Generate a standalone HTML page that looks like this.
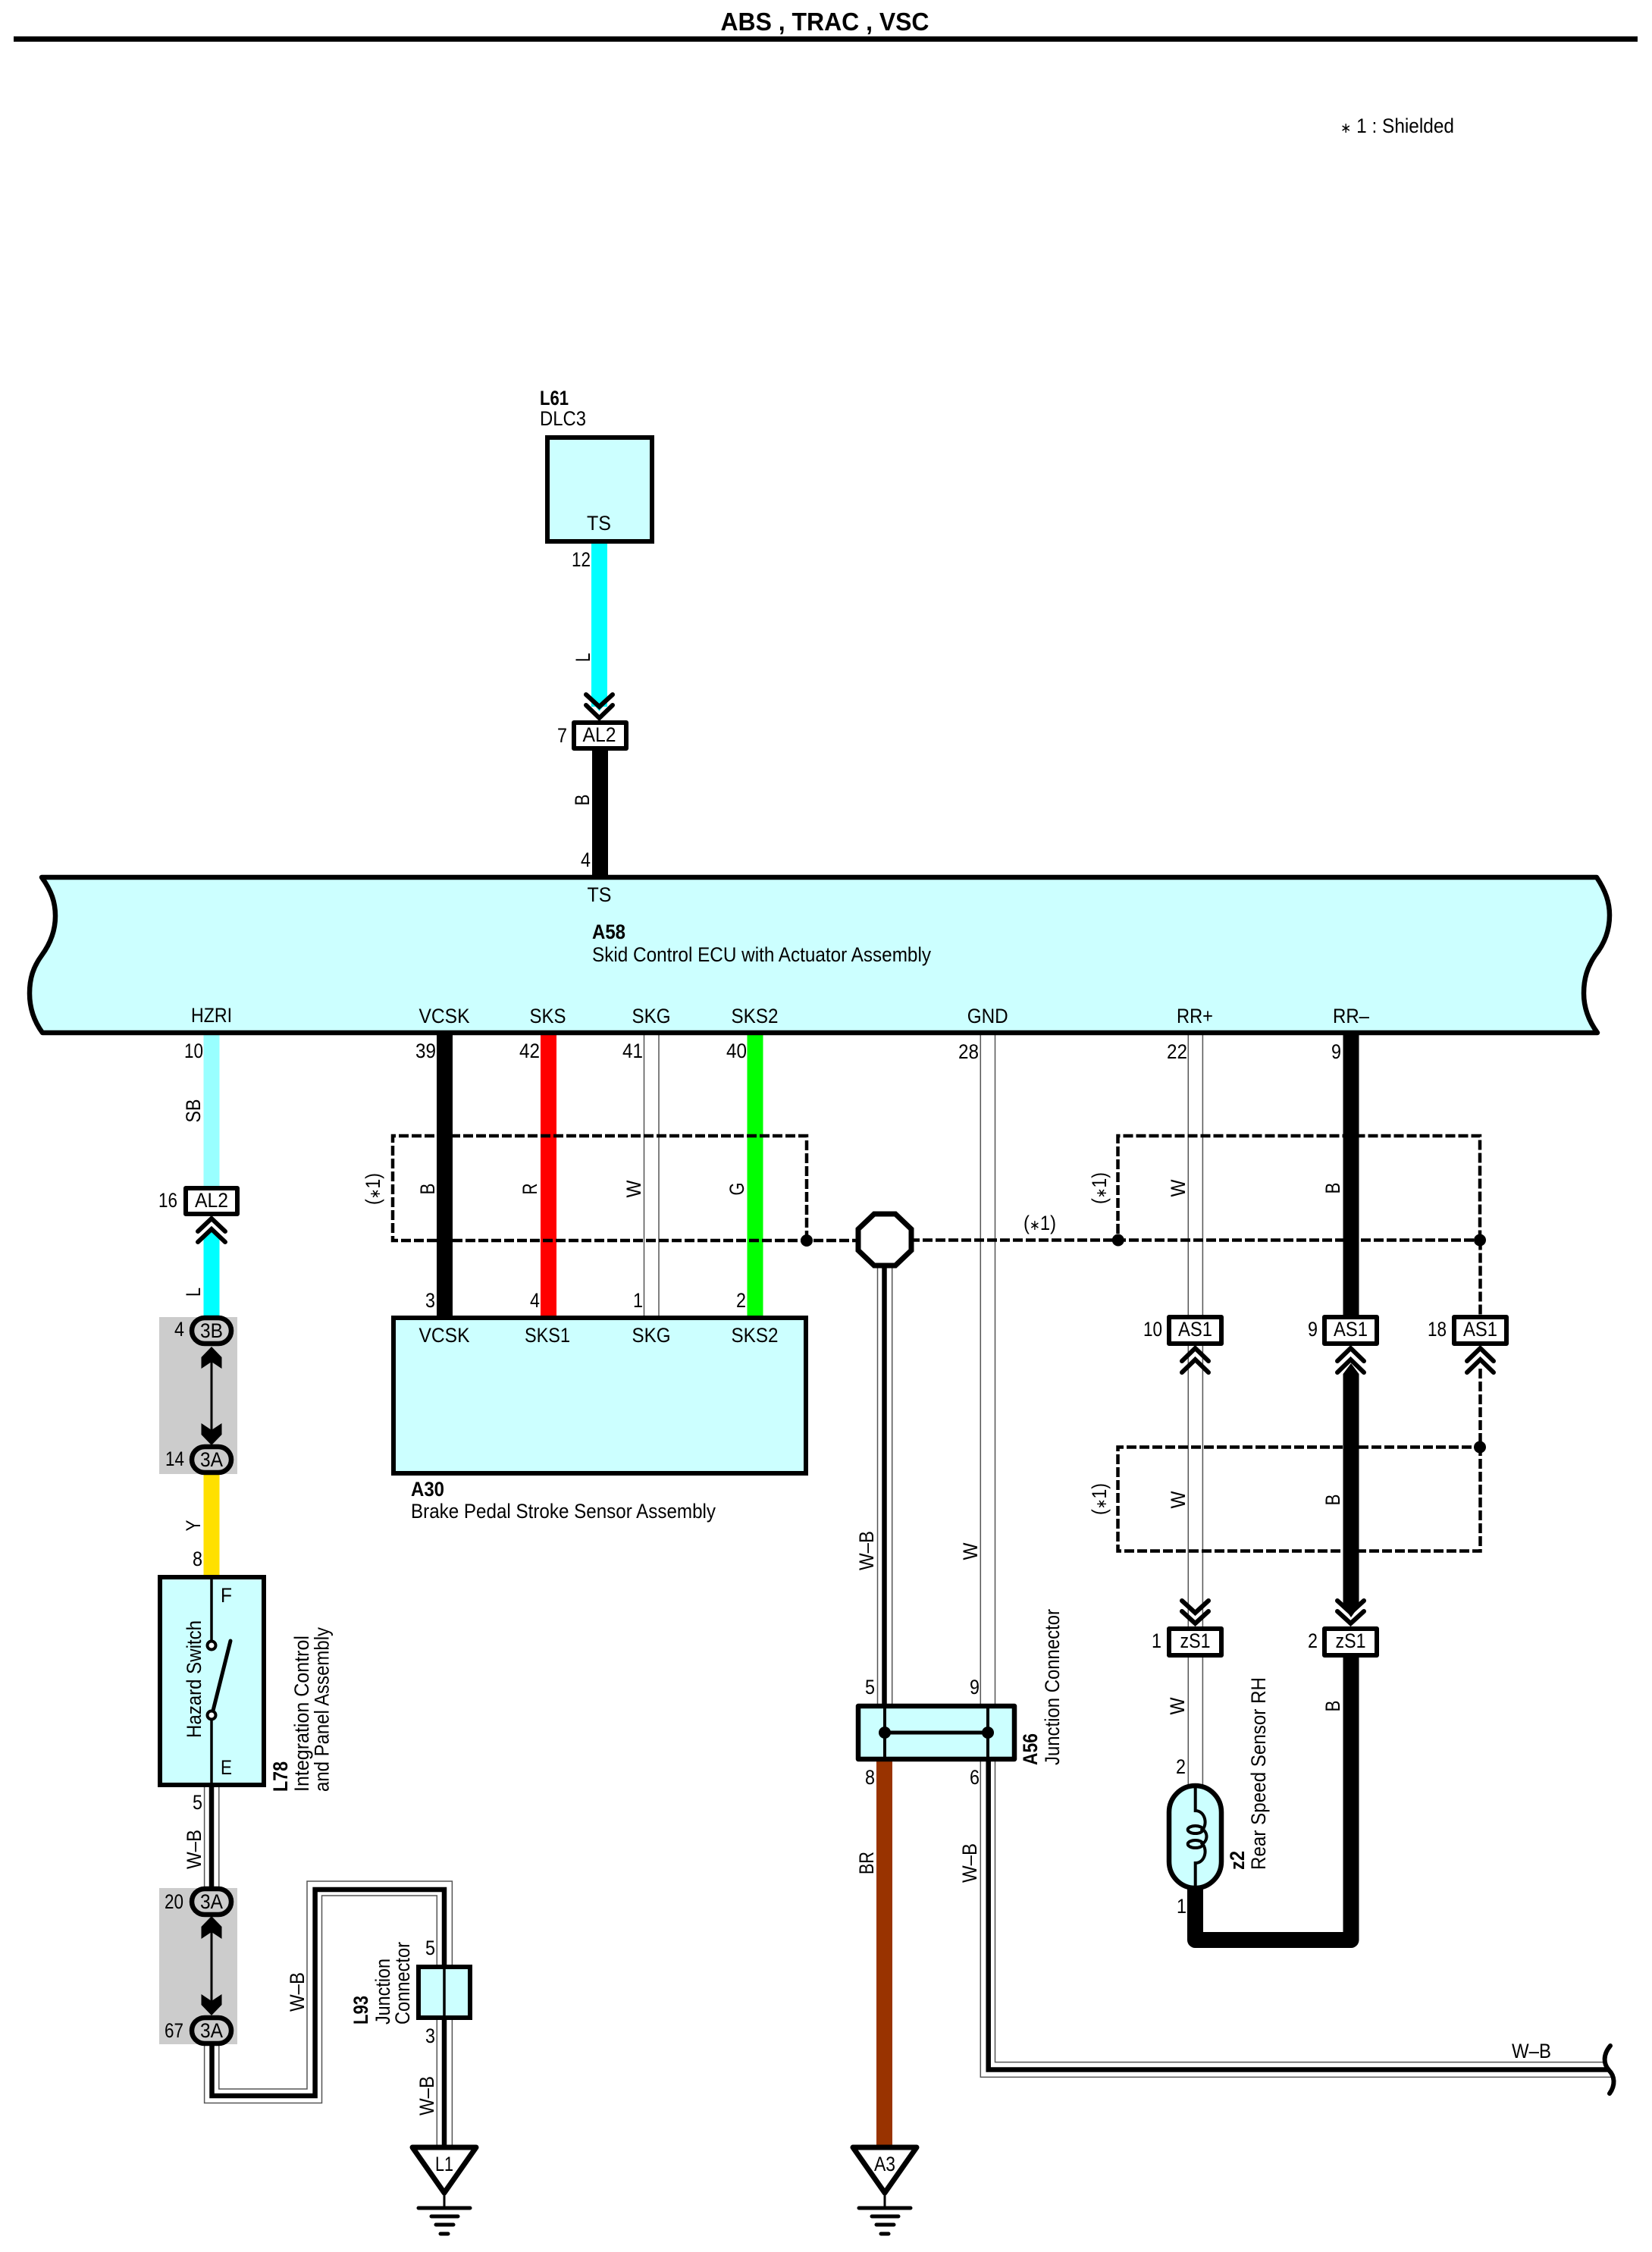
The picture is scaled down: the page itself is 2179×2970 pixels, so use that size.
<!DOCTYPE html>
<html>
<head>
<meta charset="utf-8">
<title>ABS , TRAC , VSC</title>
<style>
html,body{margin:0;padding:0;background:#fff;}
svg{display:block;}
text{font-family:"Liberation Sans",sans-serif;font-size:27px;fill:#000;}
.b{font-weight:bold;}
.s{font-size:19px;}
</style>
</head>
<body>
<svg width="2179" height="2970" viewBox="0 0 2179 2970" xmlns="http://www.w3.org/2000/svg">
<rect width="2179" height="2970" fill="#fff"/>

<!-- header -->
<text x="1088" y="40" class="b" style="font-size:33px" text-anchor="middle" textLength="275" lengthAdjust="spacingAndGlyphs">ABS , TRAC , VSC</text>
<rect x="18" y="48" width="2142" height="7" fill="#000"/>
<text x="1768" y="175" textLength="150" lengthAdjust="spacingAndGlyphs"><tspan class="s">∗</tspan> 1 : Shielded</text>

<!-- grey connector bands -->
<rect x="210" y="1737" width="103" height="207" fill="#ccc"/>
<rect x="210" y="2490" width="103" height="206" fill="#ccc"/>

<!-- coloured wires -->
<rect x="780" y="716" width="21" height="216" fill="#00ffff"/>
<path d="M780,925 L790.5,938 L801,925 Z" fill="#00ffff"/>
<rect x="781" y="990" width="21" height="166" fill="#000"/>
<rect x="268.5" y="1365" width="21" height="200" fill="#99ffff"/>
<path d="M268.5,1738 V1633 L279,1622 L289.5,1633 V1738 Z" fill="#00ffff"/>
<rect x="268.5" y="1944" width="21" height="136" fill="#ffe000"/>
<rect x="576" y="1365" width="21" height="372" fill="#000"/>
<rect x="713" y="1365" width="21" height="372" fill="#ff0000"/>
<rect x="985.5" y="1365" width="21" height="372" fill="#00ff00"/>
<rect x="1156" y="2323" width="21" height="507" fill="#993300"/>

<!-- thin W wires -->
<g fill="none" stroke="#555" stroke-width="1.5">
<path d="M849.5,1365 V1737 M869,1365 V1737"/>
<path d="M1293.3,1365 V2247 M1312.5,1365 V2247"/>
<path d="M1567.3,1365 V1735 M1586.4,1365 V1735"/>
<path d="M1567.3,1775 V2145 M1586.4,1775 V2145"/>
<path d="M1567.3,2185 V2356 M1586.4,2185 V2356"/>
<path d="M1157.5,1670 V2247 M1176.7,1670 V2247"/>
<path d="M1293.3,2323 V2739.4 H2125 M1312.5,2323 V2719.6 H2116"/>
<path d="M269.6,2357 V2490 M288.8,2357 V2490"/>
<path d="M269.6,2696 V2773.5 H424.5 V2500 H576.3 V2830"/>
<path d="M288.8,2696 V2755 H405 V2481 H596.4 V2830"/>
</g>
<!-- thick-centred black lines -->
<g fill="none" stroke="#000" stroke-width="6.5">
<path d="M1166.5,1670 V2247"/>
<path d="M1303.7,2323 V2729.5 H2122"/>
<path d="M279,2357 V2490"/>
<path d="M279.5,2696 V2764 H415.6 V2492 H586 V2830"/>
</g>

<!-- RR- black wire -->
<path d="M1771.5,1365 H1792.5 V1737 H1771.5 Z" fill="#000"/>
<path d="M1771.5,2118 V1812 L1782,1798 L1792.5,1812 V2118 L1782,2133 Z" fill="#000"/>
<path d="M1576.5,2490 V2558.5 H1782 V2185" fill="none" stroke="#000" stroke-width="21" stroke-linejoin="round"/>

<!-- shields -->
<g fill="none" stroke="#000" stroke-width="4.5" stroke-dasharray="13 4">
<path d="M1064,1636 V1498 H518 V1636 H1135"/>
<path d="M1200,1635.5 H1952"/>
<path d="M1952,1635.5 V1498 H1474.5 V1635.5"/>
<path d="M1952.5,1635.5 V1737"/>
<path d="M1952.5,1805 V2045.5 H1474.5 V1908.5 H1952.5"/>
</g>
<g fill="#000">
<circle cx="1064" cy="1636" r="8"/>
<circle cx="1474.8" cy="1635.5" r="8"/>
<circle cx="1952" cy="1635.5" r="8"/>
<circle cx="1952" cy="1908.5" r="8"/>
</g>
<!-- octagon -->
<path d="M1153,1601 H1181 L1202,1621 V1649 L1181,1669 H1153 L1132,1649 V1621 Z" fill="#fff" stroke="#000" stroke-width="7"/>

<!-- end squiggle -->
<path d="M2124,2698 C2114,2710 2115,2722 2122,2730 C2130,2738 2131,2750 2123,2761" fill="none" stroke="#000" stroke-width="6" stroke-linecap="round"/>

<!-- ECU A58 -->
<path d="M55,1157 C68,1175 73,1190 73,1208 C73,1228 66,1245 55,1260 C44,1275 39,1290 39,1310 C39,1330 45,1347 56,1362 L2107,1362 C2096,1347 2089,1330 2089,1310 C2089,1290 2094,1275 2104,1260 C2116,1245 2123,1228 2123,1207 C2123,1190 2118,1175 2106,1157 Z" fill="#ccffff" stroke="#000" stroke-width="6.5" stroke-linejoin="round"/>

<!-- L61 box -->
<rect x="722" y="577" width="138" height="137" fill="#ccffff" stroke="#000" stroke-width="6"/>

<!-- A30 box -->
<rect x="519" y="1738" width="544" height="205" fill="#ccffff" stroke="#000" stroke-width="6"/>

<!-- Hazard box -->
<rect x="211" y="2080" width="137" height="274" fill="#ccffff" stroke="#000" stroke-width="6"/>
<path d="M279,2080 V2170 M279,2262 V2354" stroke="#000" stroke-width="3.5" fill="none"/>
<path d="M279.5,2262 L304,2164" stroke="#000" stroke-width="5" fill="none" stroke-linecap="round"/>
<circle cx="279" cy="2170" r="5.5" fill="#fff" stroke="#000" stroke-width="4"/>
<circle cx="279" cy="2262" r="5.5" fill="#fff" stroke="#000" stroke-width="4"/>

<!-- L93 box -->
<rect x="552" y="2594" width="68" height="67" fill="#ccffff" stroke="#000" stroke-width="6"/>
<path d="M586,2594 V2661" stroke="#000" stroke-width="3.5"/>

<!-- A56 box -->
<rect x="1132" y="2250" width="206" height="70" fill="#ccffff" stroke="#000" stroke-width="6.5" stroke-linejoin="round"/>
<path d="M1167,2250 V2320 M1303,2250 V2320" stroke="#000" stroke-width="4"/>
<path d="M1167,2285 H1303" stroke="#000" stroke-width="5"/>
<circle cx="1167" cy="2285" r="8" fill="#000"/>
<circle cx="1303" cy="2285" r="8" fill="#000"/>

<!-- Sensor z2 -->
<rect x="1542" y="2355" width="69" height="135" rx="34.5" ry="35" fill="#ccffff" stroke="#000" stroke-width="6.5"/>
<g fill="none" stroke="#000" stroke-width="4">
<path d="M1576.7,2355 V2388 C1590,2388 1594,2408 1584,2415"/>
<ellipse cx="1576.7" cy="2413" rx="10" ry="5"/>
<path d="M1584,2411 C1594,2416 1594,2428 1584,2433"/>
<ellipse cx="1576.7" cy="2432" rx="10" ry="5"/>
<path d="M1584,2430 C1594,2437 1590,2457 1576.7,2457 V2490"/>
</g>

<!-- connectors AL2 / AS1 / zS1 -->
<g fill="#fff" stroke="#000" stroke-width="6" stroke-linejoin="round">
<rect x="757" y="953" width="69" height="34"/>
<rect x="245" y="1567" width="68" height="34"/>
<rect x="1542" y="1737" width="69" height="35"/>
<rect x="1747" y="1737" width="69" height="35"/>
<rect x="1918" y="1737" width="69" height="35"/>
<rect x="1542" y="2148" width="69" height="35"/>
<rect x="1747" y="2148" width="69" height="35"/>
</g>
<!-- chevrons -->
<g fill="none" stroke="#000" stroke-width="6" stroke-linecap="round">
<path d="M773,916 L790.5,932 L808,916 M773,930 L790.5,947 L808,930"/>
<path d="M261,1624 L279,1607 L297,1624 M261,1638 L279,1621 L297,1638"/>
<path d="M1559,1795 L1576.5,1778 L1594,1795 M1559,1810 L1576.5,1793 L1594,1810"/>
<path d="M1764,1795 L1781.5,1778 L1799,1795 M1764,1810 L1781.5,1793 L1799,1810"/>
<path d="M1935,1795 L1952.5,1778 L1970,1795 M1935,1810 L1952.5,1793 L1970,1810"/>
<path d="M1559,2111 L1576.5,2127 L1594,2111 M1559,2125 L1576.5,2141 L1594,2125"/>
<path d="M1764,2111 L1781.5,2127 L1799,2111 M1764,2125 L1781.5,2141 L1799,2125"/>
</g>

<!-- ovals + double arrows -->
<g fill="#ccc" stroke="#000" stroke-width="6.5">
<rect x="253" y="1738" width="52" height="34" rx="17"/>
<rect x="253" y="1908" width="52" height="34" rx="17"/>
<rect x="253" y="2491" width="52" height="34" rx="17"/>
<rect x="253" y="2661" width="52" height="34" rx="17"/>
</g>
<g fill="#000">
<path d="M277.5,1790 H280.5 V1895 H277.5 Z"/>
<path d="M279,1776 L292.5,1790 V1805 L279,1796 L265.5,1805 V1790 Z"/>
<path d="M279,1906 L292.5,1892 V1877 L279,1886 L265.5,1877 V1892 Z"/>
<path d="M277.5,2540 H280.5 V2645 H277.5 Z"/>
<path d="M279,2527 L292.5,2541 V2557 L279,2548 L265.5,2557 V2541 Z"/>
<path d="M279,2658 L292.5,2644 V2630 L279,2639 L265.5,2630 V2644 Z"/>
</g>

<!-- grounds -->
<g fill="#fff" stroke="#000" stroke-width="7" stroke-linejoin="round">
<path d="M544,2832 H628 L586,2892 Z"/>
<path d="M1125,2832 H1209 L1167,2892 Z"/>
</g>
<g fill="none" stroke="#000" stroke-linecap="round">
<path d="M586,2892 V2912 M1167,2892 V2912" stroke-width="3"/>
<path d="M552,2912 H620 M569,2923 H604 M575,2934 H598 M581,2946 H591" stroke-width="5"/>
<path d="M1133,2912 H1201 M1150,2923 H1185 M1156,2934 H1179 M1162,2946 H1172" stroke-width="5"/>
</g>

<!-- upper labels -->
<text x="712" y="534" class="b" textLength="38" lengthAdjust="spacingAndGlyphs">L61</text>
<text x="712" y="561" textLength="61" lengthAdjust="spacingAndGlyphs">DLC3</text>
<text x="790" y="699" text-anchor="middle" textLength="32" lengthAdjust="spacingAndGlyphs">TS</text>
<text x="779" y="747" text-anchor="end" textLength="25" lengthAdjust="spacingAndGlyphs">12</text>
<text x="778" y="867" transform="rotate(-90 778 867)" text-anchor="middle" textLength="12" lengthAdjust="spacingAndGlyphs">L</text>
<text x="748" y="979" text-anchor="end" textLength="13" lengthAdjust="spacingAndGlyphs">7</text>
<text x="790.5" y="978" text-anchor="middle" textLength="44" lengthAdjust="spacingAndGlyphs">AL2</text>
<text x="777" y="1055" transform="rotate(-90 777 1055)" text-anchor="middle" textLength="15" lengthAdjust="spacingAndGlyphs">B</text>
<text x="779" y="1143" text-anchor="end" textLength="13" lengthAdjust="spacingAndGlyphs">4</text>

<!-- ECU labels -->
<text x="790.5" y="1189" text-anchor="middle" textLength="32" lengthAdjust="spacingAndGlyphs">TS</text>
<text x="781" y="1238" class="b" textLength="44" lengthAdjust="spacingAndGlyphs">A58</text>
<text x="781" y="1268" textLength="447" lengthAdjust="spacingAndGlyphs">Skid Control ECU with Actuator Assembly</text>
<text x="279" y="1348" text-anchor="middle" textLength="54" lengthAdjust="spacingAndGlyphs">HZRI</text>
<text x="586" y="1349" text-anchor="middle" textLength="67" lengthAdjust="spacingAndGlyphs">VCSK</text>
<text x="722.5" y="1349" text-anchor="middle" textLength="48" lengthAdjust="spacingAndGlyphs">SKS</text>
<text x="859" y="1349" text-anchor="middle" textLength="51" lengthAdjust="spacingAndGlyphs">SKG</text>
<text x="995.5" y="1349" text-anchor="middle" textLength="62" lengthAdjust="spacingAndGlyphs">SKS2</text>
<text x="1302.7" y="1349" text-anchor="middle" textLength="54" lengthAdjust="spacingAndGlyphs">GND</text>
<text x="1576" y="1349" text-anchor="middle" textLength="48" lengthAdjust="spacingAndGlyphs">RR+</text>
<text x="1782" y="1349" text-anchor="middle" textLength="48" lengthAdjust="spacingAndGlyphs">RR–</text>

<!-- pin numbers under ECU -->
<text x="268" y="1395" text-anchor="end" textLength="25" lengthAdjust="spacingAndGlyphs">10</text>
<text x="575" y="1395" text-anchor="end" textLength="27" lengthAdjust="spacingAndGlyphs">39</text>
<text x="712" y="1395" text-anchor="end" textLength="27" lengthAdjust="spacingAndGlyphs">42</text>
<text x="848" y="1395" text-anchor="end" textLength="27" lengthAdjust="spacingAndGlyphs">41</text>
<text x="985" y="1395" text-anchor="end" textLength="27" lengthAdjust="spacingAndGlyphs">40</text>
<text x="1291" y="1396" text-anchor="end" textLength="27" lengthAdjust="spacingAndGlyphs">28</text>
<text x="1566" y="1396" text-anchor="end" textLength="27" lengthAdjust="spacingAndGlyphs">22</text>
<text x="1769" y="1396" text-anchor="end" textLength="13" lengthAdjust="spacingAndGlyphs">9</text>

<!-- left column -->
<text x="264" y="1465" transform="rotate(-90 264 1465)" text-anchor="middle" textLength="31" lengthAdjust="spacingAndGlyphs">SB</text>
<text x="234" y="1592" text-anchor="end" textLength="25" lengthAdjust="spacingAndGlyphs">16</text>
<text x="279" y="1592" text-anchor="middle" textLength="44" lengthAdjust="spacingAndGlyphs">AL2</text>
<text x="264" y="1704" transform="rotate(-90 264 1704)" text-anchor="middle" textLength="12" lengthAdjust="spacingAndGlyphs">L</text>
<text x="243" y="1762" text-anchor="end" textLength="13" lengthAdjust="spacingAndGlyphs">4</text>
<text x="279" y="1764" text-anchor="middle" textLength="30" lengthAdjust="spacingAndGlyphs">3B</text>
<text x="243" y="1933" text-anchor="end" textLength="25" lengthAdjust="spacingAndGlyphs">14</text>
<text x="279" y="1934" text-anchor="middle" textLength="30" lengthAdjust="spacingAndGlyphs">3A</text>
<text x="264" y="2012" transform="rotate(-90 264 2012)" text-anchor="middle" textLength="15" lengthAdjust="spacingAndGlyphs">Y</text>
<text x="267" y="2065" text-anchor="end" textLength="13" lengthAdjust="spacingAndGlyphs">8</text>
<text x="291" y="2113" textLength="15" lengthAdjust="spacingAndGlyphs">F</text>
<text x="291" y="2340" textLength="15" lengthAdjust="spacingAndGlyphs">E</text>
<text x="265" y="2292" transform="rotate(-90 265 2292)" textLength="155" lengthAdjust="spacingAndGlyphs">Hazard Switch</text>
<text x="379" y="2363" class="b" transform="rotate(-90 379 2363)" textLength="40" lengthAdjust="spacingAndGlyphs">L78</text>
<text x="407" y="2363" transform="rotate(-90 407 2363)" textLength="206" lengthAdjust="spacingAndGlyphs">Integration Control</text>
<text x="433.5" y="2363" transform="rotate(-90 433.5 2363)" textLength="217" lengthAdjust="spacingAndGlyphs">and Panel Assembly</text>
<text x="267" y="2386" text-anchor="end" textLength="13" lengthAdjust="spacingAndGlyphs">5</text>
<text x="265" y="2439" transform="rotate(-90 265 2439)" text-anchor="middle" textLength="52" lengthAdjust="spacingAndGlyphs">W–B</text>
<text x="242" y="2517" text-anchor="end" textLength="25" lengthAdjust="spacingAndGlyphs">20</text>
<text x="279" y="2517" text-anchor="middle" textLength="30" lengthAdjust="spacingAndGlyphs">3A</text>
<text x="242" y="2687" text-anchor="end" textLength="25" lengthAdjust="spacingAndGlyphs">67</text>
<text x="279" y="2687" text-anchor="middle" textLength="30" lengthAdjust="spacingAndGlyphs">3A</text>
<text x="401" y="2627" transform="rotate(-90 401 2627)" text-anchor="middle" textLength="52" lengthAdjust="spacingAndGlyphs">W–B</text>
<text x="485" y="2670" class="b" transform="rotate(-90 485 2670)" textLength="38" lengthAdjust="spacingAndGlyphs">L93</text>
<text x="514" y="2670" transform="rotate(-90 514 2670)" textLength="87" lengthAdjust="spacingAndGlyphs">Junction</text>
<text x="540" y="2670" transform="rotate(-90 540 2670)" textLength="109" lengthAdjust="spacingAndGlyphs">Connector</text>
<text x="574" y="2578" text-anchor="end" textLength="13" lengthAdjust="spacingAndGlyphs">5</text>
<text x="574" y="2694" text-anchor="end" textLength="13" lengthAdjust="spacingAndGlyphs">3</text>
<text x="572" y="2764" transform="rotate(-90 572 2764)" text-anchor="middle" textLength="52" lengthAdjust="spacingAndGlyphs">W–B</text>
<text x="586" y="2863" text-anchor="middle" textLength="24" lengthAdjust="spacingAndGlyphs">L1</text>

<!-- shield section labels -->
<text x="501" y="1568" transform="rotate(-90 501 1568)" text-anchor="middle" textLength="42" lengthAdjust="spacingAndGlyphs">(<tspan class="s">∗</tspan>1)</text>
<text x="573" y="1568" transform="rotate(-90 573 1568)" text-anchor="middle" textLength="15" lengthAdjust="spacingAndGlyphs">B</text>
<text x="708" y="1568" transform="rotate(-90 708 1568)" text-anchor="middle" textLength="15" lengthAdjust="spacingAndGlyphs">R</text>
<text x="845" y="1568" transform="rotate(-90 845 1568)" text-anchor="middle" textLength="23" lengthAdjust="spacingAndGlyphs">W</text>
<text x="981" y="1568" transform="rotate(-90 981 1568)" text-anchor="middle" textLength="17" lengthAdjust="spacingAndGlyphs">G</text>

<!-- A30 -->
<text x="574" y="1724" text-anchor="end" textLength="13" lengthAdjust="spacingAndGlyphs">3</text>
<text x="712" y="1724" text-anchor="end" textLength="13" lengthAdjust="spacingAndGlyphs">4</text>
<text x="848" y="1724" text-anchor="end" textLength="13" lengthAdjust="spacingAndGlyphs">1</text>
<text x="984" y="1724" text-anchor="end" textLength="13" lengthAdjust="spacingAndGlyphs">2</text>
<text x="586" y="1770" text-anchor="middle" textLength="67" lengthAdjust="spacingAndGlyphs">VCSK</text>
<text x="722" y="1770" text-anchor="middle" textLength="60" lengthAdjust="spacingAndGlyphs">SKS1</text>
<text x="859" y="1770" text-anchor="middle" textLength="51" lengthAdjust="spacingAndGlyphs">SKG</text>
<text x="995.5" y="1770" text-anchor="middle" textLength="62" lengthAdjust="spacingAndGlyphs">SKS2</text>
<text x="542" y="1973" class="b" textLength="44" lengthAdjust="spacingAndGlyphs">A30</text>
<text x="542" y="2002" textLength="402" lengthAdjust="spacingAndGlyphs">Brake Pedal Stroke Sensor Assembly</text>

<!-- centre -->
<text x="1350" y="1622" textLength="43" lengthAdjust="spacingAndGlyphs">(<tspan class="s">∗</tspan>1)</text>
<text x="1152" y="2045" transform="rotate(-90 1152 2045)" text-anchor="middle" textLength="52" lengthAdjust="spacingAndGlyphs">W–B</text>
<text x="1289" y="2046" transform="rotate(-90 1289 2046)" text-anchor="middle" textLength="23" lengthAdjust="spacingAndGlyphs">W</text>
<text x="1154" y="2234" text-anchor="end" textLength="13" lengthAdjust="spacingAndGlyphs">5</text>
<text x="1292" y="2234" text-anchor="end" textLength="13" lengthAdjust="spacingAndGlyphs">9</text>
<text x="1154" y="2353" text-anchor="end" textLength="13" lengthAdjust="spacingAndGlyphs">8</text>
<text x="1292" y="2353" text-anchor="end" textLength="13" lengthAdjust="spacingAndGlyphs">6</text>
<text x="1368" y="2328" class="b" transform="rotate(-90 1368 2328)" textLength="42" lengthAdjust="spacingAndGlyphs">A56</text>
<text x="1397" y="2328" transform="rotate(-90 1397 2328)" textLength="206" lengthAdjust="spacingAndGlyphs">Junction Connector</text>
<text x="1152" y="2457" transform="rotate(-90 1152 2457)" text-anchor="middle" textLength="30" lengthAdjust="spacingAndGlyphs">BR</text>
<text x="1288" y="2457" transform="rotate(-90 1288 2457)" text-anchor="middle" textLength="52" lengthAdjust="spacingAndGlyphs">W–B</text>
<text x="2020" y="2714" text-anchor="middle" textLength="52" lengthAdjust="spacingAndGlyphs">W–B</text>
<text x="1167" y="2863" text-anchor="middle" textLength="28" lengthAdjust="spacingAndGlyphs">A3</text>

<!-- right column -->
<text x="1459" y="1567" transform="rotate(-90 1459 1567)" text-anchor="middle" textLength="42" lengthAdjust="spacingAndGlyphs">(<tspan class="s">∗</tspan>1)</text>
<text x="1563" y="1567" transform="rotate(-90 1563 1567)" text-anchor="middle" textLength="23" lengthAdjust="spacingAndGlyphs">W</text>
<text x="1767" y="1567" transform="rotate(-90 1767 1567)" text-anchor="middle" textLength="15" lengthAdjust="spacingAndGlyphs">B</text>
<text x="1533" y="1762" text-anchor="end" textLength="25" lengthAdjust="spacingAndGlyphs">10</text>
<text x="1576.5" y="1762" text-anchor="middle" textLength="45" lengthAdjust="spacingAndGlyphs">AS1</text>
<text x="1738" y="1762" text-anchor="end" textLength="13" lengthAdjust="spacingAndGlyphs">9</text>
<text x="1781.5" y="1762" text-anchor="middle" textLength="45" lengthAdjust="spacingAndGlyphs">AS1</text>
<text x="1908" y="1762" text-anchor="end" textLength="25" lengthAdjust="spacingAndGlyphs">18</text>
<text x="1952.5" y="1762" text-anchor="middle" textLength="45" lengthAdjust="spacingAndGlyphs">AS1</text>
<text x="1459" y="1977" transform="rotate(-90 1459 1977)" text-anchor="middle" textLength="42" lengthAdjust="spacingAndGlyphs">(<tspan class="s">∗</tspan>1)</text>
<text x="1563" y="1978" transform="rotate(-90 1563 1978)" text-anchor="middle" textLength="23" lengthAdjust="spacingAndGlyphs">W</text>
<text x="1767" y="1978" transform="rotate(-90 1767 1978)" text-anchor="middle" textLength="15" lengthAdjust="spacingAndGlyphs">B</text>
<text x="1532" y="2173" text-anchor="end" textLength="13" lengthAdjust="spacingAndGlyphs">1</text>
<text x="1576.5" y="2173" text-anchor="middle" textLength="40" lengthAdjust="spacingAndGlyphs">zS1</text>
<text x="1738" y="2173" text-anchor="end" textLength="13" lengthAdjust="spacingAndGlyphs">2</text>
<text x="1781.5" y="2173" text-anchor="middle" textLength="40" lengthAdjust="spacingAndGlyphs">zS1</text>
<text x="1562" y="2250" transform="rotate(-90 1562 2250)" text-anchor="middle" textLength="23" lengthAdjust="spacingAndGlyphs">W</text>
<text x="1767" y="2250" transform="rotate(-90 1767 2250)" text-anchor="middle" textLength="15" lengthAdjust="spacingAndGlyphs">B</text>
<text x="1564" y="2339" text-anchor="end" textLength="13" lengthAdjust="spacingAndGlyphs">2</text>
<text x="1565" y="2523" text-anchor="end" textLength="13" lengthAdjust="spacingAndGlyphs">1</text>
<text x="1641" y="2466" class="b" transform="rotate(-90 1641 2466)" textLength="25" lengthAdjust="spacingAndGlyphs">z2</text>
<text x="1669" y="2466" transform="rotate(-90 1669 2466)" textLength="254" lengthAdjust="spacingAndGlyphs">Rear Speed Sensor RH</text>
</svg>
</body>
</html>
